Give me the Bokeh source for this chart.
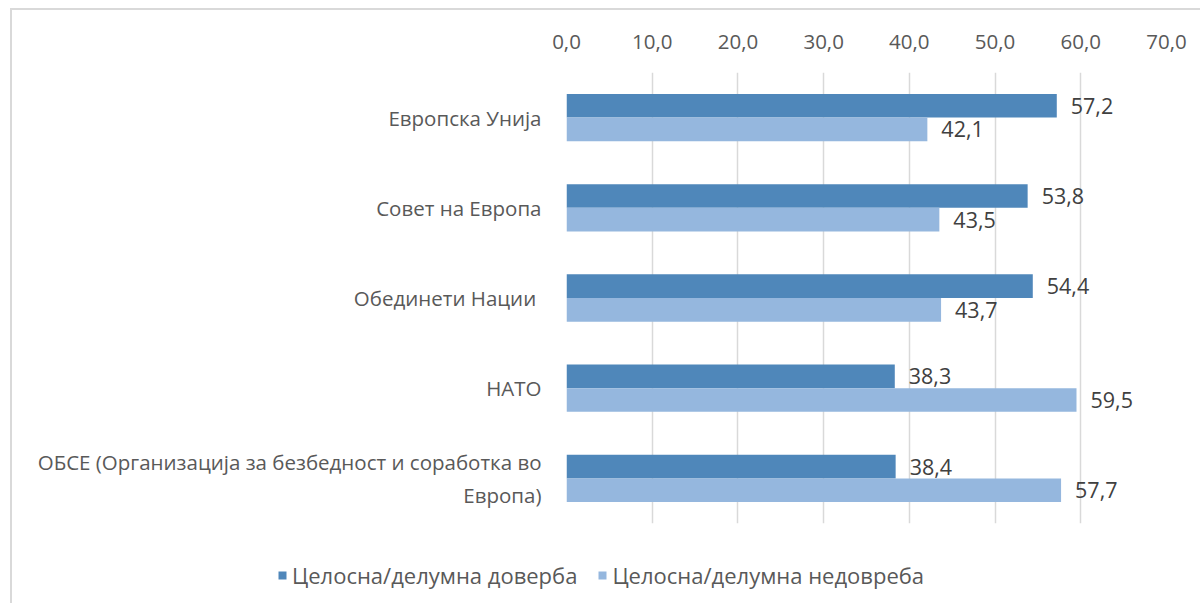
from bokeh.plotting import figure
from bokeh.layouts import column
from bokeh.models import (ColumnDataSource, FactorRange, Range1d, FixedTicker,
                          CustomJSTickFormatter, Legend, LegendItem)
from bokeh.transform import dodge
from bokeh.core.properties import value
from bokeh.embed import file_html
from bokeh.resources import INLINE

categories = ["Европска Унија", "Совет на Европа", "Обединети Нации ", "НАТО",
              "ОБСЕ (Организација за безбедност и соработка во\nЕвропа)"]
trust = [57.2, 53.8, 54.4, 38.3, 38.4]
distrust = [42.1, 43.5, 43.7, 59.5, 57.7]
series_names = ["Целосна/делумна доверба", "Целосна/делумна недовреба"]
x_ticks = [0, 10, 20, 30, 40, 50, 60, 70]

FONT = "Open Sans"
TXT = "#595959"
DARK = "#4F87BA"
LIGHT = "#95B7DE"
FS = "20.5px"

src = ColumnDataSource(dict(
    cat=categories,
    trust=trust,
    distrust=distrust,
    trust_lbl=[f"{v:.1f}".replace(".", ",") for v in trust],
    distrust_lbl=[f"{v:.1f}".replace(".", ",") for v in distrust],
))

W = 1188
H_MAIN = 530
H_LEG = 63

# canvas starts at page (12, 10) because of margin + border of the column
p = figure(width=W, height=H_MAIN, output_backend="svg", toolbar_location=None,
           y_range=FactorRange(factors=categories[::-1], range_padding=0),
           x_range=Range1d(0, 70), x_axis_location="above")
p.frame_align = False
p.min_border = 0
p.min_border_left = 554
p.min_border_right = W - 1154
p.min_border_top = 62
p.min_border_bottom = H_MAIN - 513
p.outline_line_color = None
p.background_fill_color = "white"
p.border_fill_color = "white"

bh = 0.262
p.hbar(y=dodge("cat", bh / 2, range=p.y_range), right="trust", left=0, height=bh,
       source=src, fill_color=DARK, line_color=None)
p.hbar(y=dodge("cat", -bh / 2, range=p.y_range), right="distrust", left=0, height=bh,
       source=src, fill_color=LIGHT, line_color=None)

p.text(x="trust", y=dodge("cat", bh / 2, range=p.y_range), text="trust_lbl", source=src,
       x_offset=14, text_baseline="middle", text_align="left",
       text_font=value(FONT), text_font_size="21.5px", text_color="#404040")
p.text(x="distrust", y=dodge("cat", -bh / 2, range=p.y_range), text="distrust_lbl", source=src,
       x_offset=14, text_baseline="middle", text_align="left",
       text_font=value(FONT), text_font_size="21.5px", text_color="#404040")

xa = p.xaxis[0]
xa.ticker = FixedTicker(ticks=x_ticks)
xa.formatter = CustomJSTickFormatter(code="return tick.toFixed(1).replace('.', ',');")
xa.axis_line_color = None
xa.major_tick_line_color = None
xa.minor_tick_line_color = None
xa.major_label_standoff = 18
xa.major_label_text_font = FONT
xa.major_label_text_font_size = FS
xa.major_label_text_color = TXT

ya = p.yaxis[0]
ya.axis_line_color = None
ya.major_tick_line_color = None
ya.minor_tick_line_color = None
ya.major_label_standoff = 19
ya.major_label_text_font = FONT
ya.major_label_text_font_size = FS
ya.major_label_text_color = TXT

p.xgrid.grid_line_color = "#d9d9d9"
p.xgrid.grid_line_width = 1.5
p.ygrid.grid_line_color = None

# legend strip: its frame is the whole canvas; the same series are attached there
# with zero height, only so that the legend has renderers to show
lf = figure(width=W, height=H_LEG, output_backend="svg", toolbar_location=None,
            x_range=Range1d(100, 101), y_range=FactorRange(factors=categories))
lf.frame_align = False
lf.min_border = 0
lf.outline_line_color = None
lf.axis.visible = False
lf.grid.visible = False
lr1 = lf.hbar(y="cat", right="trust", left=0, height=0, source=src,
              fill_color=DARK, line_color=None)
lr2 = lf.hbar(y="cat", right="distrust", left=0, height=0, source=src,
              fill_color=LIGHT, line_color=None)
legend = Legend(items=[LegendItem(label=series_names[0], renderers=[lr1]),
                       LegendItem(label=series_names[1], renderers=[lr2])],
                orientation="horizontal", location=(265, 13),
                glyph_width=10, glyph_height=10, label_standoff=5, spacing=20,
                label_height=25, padding=0, margin=0, border_line_color=None,
                background_fill_alpha=0,
                label_text_font=FONT, label_text_font_size="22px", label_text_color=TXT)
lf.add_layout(legend)

layout = column(p, lf, spacing=0)
layout.styles = {"margin-left": "10px", "margin-top": "8px",
                 "border-left": "2px solid #d9d9d9", "border-top": "2px solid #d9d9d9"}

open("out.html", "w").write(file_html(layout, INLINE))
